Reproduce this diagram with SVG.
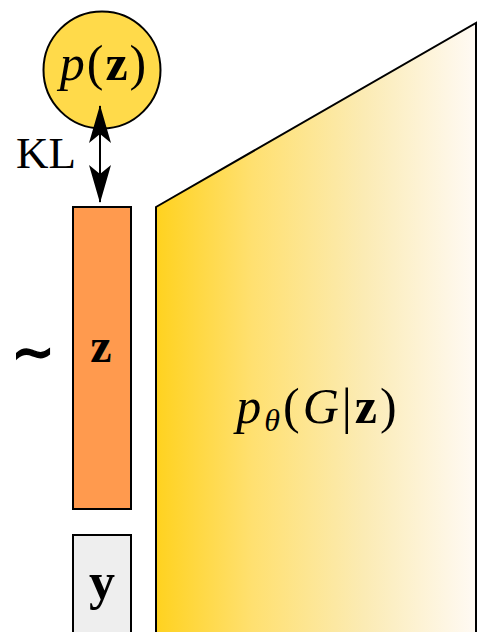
<svg xmlns="http://www.w3.org/2000/svg" width="479" height="632" viewBox="0 0 479 632">
<defs>
<linearGradient id="dec" x1="156" y1="0" x2="476" y2="0" gradientUnits="userSpaceOnUse">
<stop offset="0" stop-color="#FFD21F"/>
<stop offset="0.3" stop-color="#FFE070"/>
<stop offset="0.65" stop-color="#FBEBB4"/>
<stop offset="1" stop-color="#FFFAF4"/>
</linearGradient>
<marker id="ah" viewBox="0 0 38 22" refX="37" refY="11" markerWidth="38" markerHeight="22" markerUnits="userSpaceOnUse" orient="auto-start-reverse">
<path d="M0,0 L38,11 L0,22 L9,11 Z" fill="#000"/>
</marker>
<style>
.t{font-family:"Liberation Serif","DejaVu Serif",serif;fill:#000;}
.ln{stroke:#000;stroke-width:2;}
</style>
</defs>
<g id="decoder">
<path d="M156,207 L476,23 L476,640 L156,640 Z" fill="url(#dec)" class="ln"/>
<text class="t" x="318" y="423" font-size="50" text-anchor="middle" letter-spacing="3"><tspan font-style="italic">p</tspan><tspan font-style="italic" font-size="32" dy="8">θ</tspan><tspan dy="-8">(</tspan><tspan font-style="italic">G</tspan>|<tspan font-weight="bold">z</tspan>)</text>
</g>
<g id="prior">
<circle cx="102" cy="70" r="58.5" fill="#FFDA4A" class="ln"/>
<text class="t" x="104" y="80" font-size="50" text-anchor="middle" letter-spacing="2"><tspan font-style="italic">p</tspan>(<tspan font-weight="bold">z</tspan>)</text>
</g>
<g id="latent">
<rect x="73" y="207" width="58" height="302" fill="#FF9A4E" class="ln"/>
<text class="t" x="101" y="362" font-size="48" font-weight="bold" text-anchor="middle">z</text>
</g>
<g id="label">
<rect x="73" y="535" width="58" height="110" fill="#EEEEEE" class="ln"/>
<text class="t" x="102" y="599" font-size="52" font-weight="bold" text-anchor="middle">y</text>
</g>
<g id="sample">
<text class="t" x="33" y="370" font-size="52" font-weight="bold" text-anchor="middle" stroke="#000" stroke-width="1.5">∼</text>
</g>
<g id="connectors">
<line x1="100" y1="106" x2="100" y2="202" class="ln" marker-start="url(#ah)" marker-end="url(#ah)"/>
<text class="t" x="46" y="168" font-size="45" text-anchor="middle">KL</text>
</g>
</svg>
